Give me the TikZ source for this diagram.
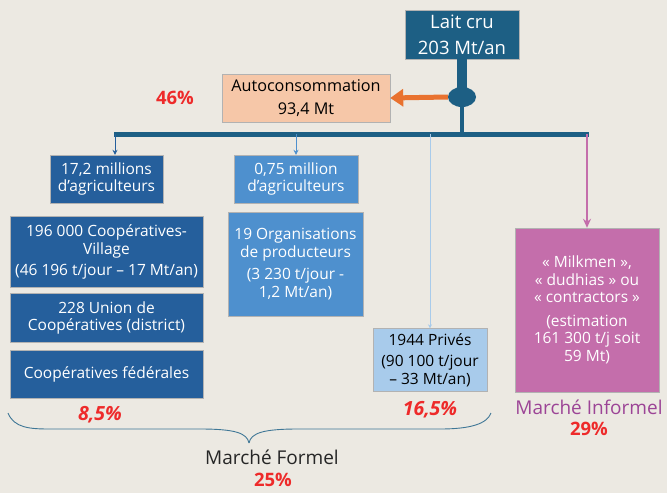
\documentclass[tikz,border=0pt]{standalone}
\usepackage{fontspec}
\setmainfont{Open Sans}
\usetikzlibrary{arrows.meta,positioning,shapes.geometric}
\definecolor{bgbeige}{HTML}{ECE9E2}
\definecolor{laitblue}{HTML}{1D5F84}
\definecolor{darkblue}{HTML}{255F9C}
\definecolor{midblue}{HTML}{4E90CE}
\definecolor{lightblue}{HTML}{A8CBEB}
\definecolor{peach}{HTML}{F6C7A8}
\definecolor{orangearr}{HTML}{E9722F}
\definecolor{magentabox}{HTML}{C46EAB}
\definecolor{pctred}{HTML}{EE2A2A}
\definecolor{purpletxt}{HTML}{9C4496}
\tikzset{
  flowbox/.style={draw=white!70!black, line width=0.4pt, align=center, inner sep=1pt, font=\fontsize{15.5}{17.5}\selectfont},
  darkbox/.style={flowbox, fill=darkblue, text=white},
  midbox/.style={flowbox, fill=midblue, text=white},
  pct/.style={text=pctred, font=\fontsize{18.5}{20}\selectfont\bfseries},
  busarrow/.style={-{Stealth[length=5pt,width=5pt]}, line width=1pt},
}

\begin{document}
\begin{tikzpicture}[x=1pt, y=1pt]
    \fill[bgbeige] (0,0) rectangle (667,-493);
    \useasboundingbox (0,0) rectangle (667,-493);
    % source
    \node[flowbox, fill=laitblue, text=white, minimum width=114pt, minimum height=49pt, font=\fontsize{18.5}{26}\selectfont] (lait) at (462,-34.5) {Lait cru\\203 Mt/an};
    \node[flowbox, fill=peach, minimum width=168pt, minimum height=48pt, font=\fontsize{16.2}{23}\selectfont] (autocons) at (306,-98) {Autoconsommation\\93,4 Mt};
    \node[pct] (pauto) at (175,-98) {46\%};
    \node[ellipse, fill=laitblue, minimum width=28pt, minimum height=20pt, inner sep=0pt] (jct) at (462,-97) {};
    \coordinate (busL) at (115,-134);
    \coordinate (busM) at (462,-134);
    \coordinate (busP) at (430,-134);
    \coordinate (busR) at (587,-134);
    \coordinate (busO) at (296,-134);
    % formal channels
    \node[darkbox, minimum width=113pt, minimum height=48pt] (agri1) at (106.5,-179) {17,2 millions\\d’agriculteurs};
    \node[midbox, minimum width=124pt, minimum height=48pt] (agri2) at (296,-179) {0,75 million\\d’agriculteurs};
    \node[darkbox, minimum width=193pt, minimum height=71pt] (coopv) at (106.5,-252) {196 000 Coopératives-\\Village\\[4pt](46 196 t/jour – 17 Mt/an)};
    \node[darkbox, minimum width=193pt, minimum height=49pt] (union) at (106.5,-318) {228 Union de\\Coopératives (district)};
    \node[darkbox, minimum width=193pt, minimum height=48pt] (federal) at (106.5,-374) {Coopératives fédérales};
    \node[midbox, minimum width=135pt, minimum height=104pt] (orgprod) at (295.5,-264) {19 Organisations\\de producteurs\\[5pt](3 230 t/jour -\\1,2 Mt/an)};
    \node[flowbox, fill=lightblue, text=black, minimum width=114pt, minimum height=63pt] (prives) at (430,-360) {1944 Privés\\[4pt](90 100 t/jour\\– 33 Mt/an)};
    % informal channel
    \node[flowbox, fill=magentabox, text=white, minimum width=144pt, minimum height=164pt] (milk) at (587,-310) {« Milkmen »,\\« dudhias » ou\\« contractors »\\[6pt](estimation\\161 300 t/j soit\\59 Mt)};
    \node[text=purpletxt, font=\fontsize{19}{22}\selectfont] (informel) at (589,-407) {Marché Informel};
    \node[pct] (pinf) at (589,-429) {29\%};
    % connectors
    \draw[laitblue, line width=10pt] (lait.south) -- (jct.center);
    \draw[laitblue, line width=4pt] (jct.center) -- (busM);
    \draw[orangearr, line width=5pt, -{Triangle[length=13pt,width=17pt]}] (jct.west) -- (autocons.east);
    \draw[laitblue, line width=5pt] ([xshift=-1pt]busL) -- ([xshift=2pt]busR);
    \draw[busarrow, darkblue] (busL) -- (busL |- agri1.north);
    \draw[busarrow, midblue] (busO) -- (busO |- agri2.north);
    \draw[-{Stealth[length=4pt,width=4pt]}, lightblue, line width=0.8pt] (busP) -- (busP |- prives.north);
    \draw[-{Stealth[length=9pt,width=8pt]}, magentabox, line width=2.5pt] (busR) -- (busR |- milk.north);
    % brace and shares
    \node[pct, font=\fontsize{19.5}{20}\selectfont\bfseries\itshape] (p85) at (100,-415) {8,5\%};
    \node[pct, font=\fontsize{19.5}{20}\selectfont\bfseries\itshape] (p165) at (430,-410) {16,5\%};
    \coordinate (brL) at (8,-413);
    \coordinate (brT) at (249,-443);
    \coordinate (brR) at (491,-413);
    \draw[laitblue!85, line width=0.9pt] (brL) .. controls (14,-428) and (30,-429) .. (50,-429) -- (200,-429) .. controls (235,-429) and (247,-433) .. (brT);
    \draw[laitblue!85, line width=0.9pt] (brT) .. controls (251,-433) and (263,-429) .. (298,-429) -- (440,-429) .. controls (470,-429) and (487,-424) .. (brR);
    \node[text=black!85, font=\fontsize{19}{22}\selectfont] (formel) at (272,-457) {Marché Formel};
    \node[pct] (pform) at (273,-480) {25\%};
\end{tikzpicture}
\end{document}
